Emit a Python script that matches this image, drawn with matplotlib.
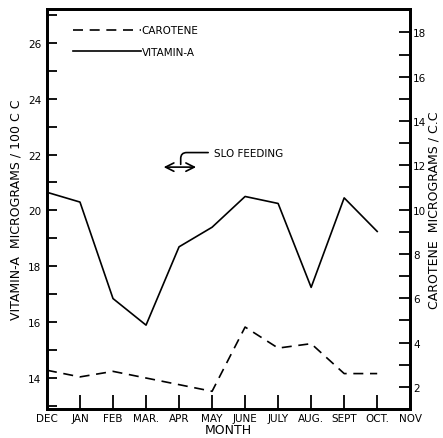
import numpy as np
import matplotlib.pyplot as plt
from matplotlib.ticker import MultipleLocator

# data
months = ["DEC", "JAN", "FEB", "MAR.", "APR", "MAY", "JUNE", "JULY", "AUG.", "SEPT", "OCT.", "NOV"]
vitamin_a = [20.65, 20.3, 16.85, 15.9, 18.7, 19.4, 20.5, 20.25, 17.25, 20.45, 19.25]
carotene = [2.75, 2.45, 2.7, 2.4, 2.1, 1.8, 4.7, 3.75, 3.95, 2.6, 2.6]

plt.rcParams["font.family"] = ["DejaVu Sans"]

fig = plt.figure(figsize=(4.43, 4.39), dpi=100)
ax = fig.add_axes([0.106, 0.066, 0.82, 0.911])
ax2 = ax.twinx()

x = np.arange(len(vitamin_a))

ax.plot(x, vitamin_a, color="black", lw=1.2, label="VITAMIN-A")
ax2.plot(x, carotene, color="black", lw=1.2, linestyle=(0, (6, 4)), label="CAROTENE")

ax.set_xlim(0, len(months) - 1)
ax.set_ylim(12.9, 27.2)
ax2.set_ylim(1.0, 19.05)

ax.set_xticks(np.arange(len(months)))
ax.set_xticklabels(months, fontsize=7.5)
ax.yaxis.set_major_locator(MultipleLocator(2))
ax.yaxis.set_minor_locator(MultipleLocator(1))
ax2.yaxis.set_major_locator(MultipleLocator(2))
ax2.yaxis.set_minor_locator(MultipleLocator(1))
ax2.set_yticks([2, 4, 6, 8, 10, 12, 14, 16, 18])

ax.tick_params(axis="x", direction="in", length=10, width=1.3, pad=3)
ax.tick_params(axis="y", which="both", direction="in", length=7, width=1.3, labelsize=7.5, pad=4)
ax2.tick_params(axis="y", which="both", direction="in", length=8, width=1.3, labelsize=7.5, pad=2)

for sp in ax.spines.values():
    sp.set_linewidth(2)
for sp in ax2.spines.values():
    sp.set_linewidth(2)

ax.set_xlabel("MONTH", fontsize=9, labelpad=0)
ax.set_ylabel("VITAMIN-A  MICROGRAMS / 100 C C", fontsize=9, labelpad=4)
ax2.set_ylabel("CAROTENE  MICROGRAMS / C.C", fontsize=9, labelpad=1)

# legend, top left, no frame
h1, l1 = ax2.get_legend_handles_labels()
h2, l2 = ax.get_legend_handles_labels()
ax.legend(h1 + h2, l1 + l2, loc="upper left", bbox_to_anchor=(0.06, 0.97),
          frameon=False, fontsize=7.5, handlelength=6.5, handletextpad=0.1,
          borderaxespad=0.0, labelspacing=1.1)

# SLO feeding note
ax.annotate("", xy=(3.45, 21.55), xytext=(4.6, 21.55),
            arrowprops=dict(arrowstyle="<->,head_length=0.6,head_width=0.3",
                            color="black", lw=1.2))
ax.annotate("SLO FEEDING", xy=(4.05, 21.55), xytext=(5.05, 22.07),
            fontsize=7.5, va="center", ha="left",
            arrowprops=dict(arrowstyle="-", color="black", lw=1.2,
                            connectionstyle="angle,angleA=180,angleB=90,rad=6"))

fig.savefig("out.png", dpi=100)
